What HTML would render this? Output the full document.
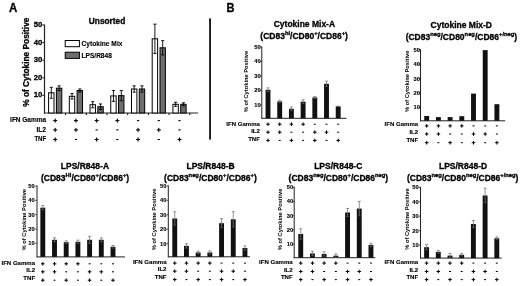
<!DOCTYPE html>
<html><head><meta charset="utf-8"><style>
html,body{margin:0;padding:0;background:#fff;width:520px;height:286px;overflow:hidden}
svg{display:block;-webkit-font-smoothing:antialiased}
svg{filter:grayscale(1)}
text{font-family:"Liberation Sans", sans-serif;stroke:#000;stroke-width:0.3px;stroke-linejoin:round}
text.s{stroke-width:0.12px}
text.n{stroke-width:0}
</style></head><body>
<svg width="520" height="286" viewBox="0 0 520 286">
<rect width="520" height="286" fill="#fff"/>
<text x="8.90" y="11.70" font-size="12" font-weight="bold" text-anchor="start" fill="#000" textLength="8.30" lengthAdjust="spacingAndGlyphs" >A</text>
<text x="107.05" y="23.80" font-size="8.3" font-weight="bold" text-anchor="middle" fill="#000" >Unsorted</text>
<text transform="translate(28.9,62.2) rotate(-90)" x="0" y="0" font-size="8.2" font-weight="bold" text-anchor="middle" textLength="89.2" lengthAdjust="spacingAndGlyphs">% of Cytokine Positive</text>
<line x1="44.50" y1="24.50" x2="44.50" y2="113.60" stroke="#222" stroke-width="1.2"/>
<line x1="43.90" y1="113.00" x2="198.00" y2="113.00" stroke="#222" stroke-width="1.2"/>
<line x1="42.30" y1="95.40" x2="44.50" y2="95.40" stroke="#222" stroke-width="1"/>
<text x="42.30" y="97.35" font-size="8" font-weight="bold" text-anchor="end" fill="#000" textLength="8.60" lengthAdjust="spacingAndGlyphs" >10</text>
<line x1="42.30" y1="77.80" x2="44.50" y2="77.80" stroke="#222" stroke-width="1"/>
<text x="42.30" y="79.75" font-size="8" font-weight="bold" text-anchor="end" fill="#000" textLength="8.60" lengthAdjust="spacingAndGlyphs" >20</text>
<line x1="42.30" y1="60.20" x2="44.50" y2="60.20" stroke="#222" stroke-width="1"/>
<text x="42.30" y="62.15" font-size="8" font-weight="bold" text-anchor="end" fill="#000" textLength="8.60" lengthAdjust="spacingAndGlyphs" >30</text>
<line x1="42.30" y1="42.60" x2="44.50" y2="42.60" stroke="#222" stroke-width="1"/>
<text x="42.30" y="44.55" font-size="8" font-weight="bold" text-anchor="end" fill="#000" textLength="8.60" lengthAdjust="spacingAndGlyphs" >40</text>
<line x1="42.30" y1="25.00" x2="44.50" y2="25.00" stroke="#222" stroke-width="1"/>
<text x="42.30" y="26.95" font-size="8" font-weight="bold" text-anchor="end" fill="#000" textLength="8.60" lengthAdjust="spacingAndGlyphs" >50</text>
<line x1="65.60" y1="113.00" x2="65.60" y2="115.00" stroke="#000" stroke-width="1"/>
<line x1="86.30" y1="113.00" x2="86.30" y2="115.00" stroke="#000" stroke-width="1"/>
<line x1="107.00" y1="113.00" x2="107.00" y2="115.00" stroke="#000" stroke-width="1"/>
<line x1="127.70" y1="113.00" x2="127.70" y2="115.00" stroke="#000" stroke-width="1"/>
<line x1="148.40" y1="113.00" x2="148.40" y2="115.00" stroke="#000" stroke-width="1"/>
<line x1="169.10" y1="113.00" x2="169.10" y2="115.00" stroke="#000" stroke-width="1"/>
<line x1="189.80" y1="113.00" x2="189.80" y2="115.00" stroke="#000" stroke-width="1"/>
<rect x="65.2" y="40.5" width="14.2" height="6.2" fill="#fff" stroke="#000" stroke-width="1"/>
<rect x="65.2" y="52.2" width="14.2" height="6.2" fill="#6e6e6e" stroke="#000" stroke-width="1"/>
<text class="s" x="81.60" y="45.90" font-size="6.6" font-weight="bold" text-anchor="start" fill="#000" textLength="40.80" lengthAdjust="spacingAndGlyphs" >Cytokine Mix</text>
<text class="s" x="81.60" y="57.60" font-size="6.6" font-weight="bold" text-anchor="start" fill="#000" textLength="30.20" lengthAdjust="spacingAndGlyphs" >LPS/R848</text>
<rect x="48.60" y="92.80" width="5.40" height="20.20" fill="#fff" stroke="#000" stroke-width="1"/>
<line x1="51.30" y1="87.35" x2="51.30" y2="98.25" stroke="#000" stroke-width="0.9"/>
<line x1="49.70" y1="87.35" x2="52.90" y2="87.35" stroke="#000" stroke-width="0.9"/>
<line x1="49.70" y1="98.25" x2="52.90" y2="98.25" stroke="#000" stroke-width="0.9"/>
<rect x="56.40" y="88.20" width="5.40" height="24.80" fill="#6e6e6e" stroke="#000" stroke-width="1"/>
<line x1="59.10" y1="85.85" x2="59.10" y2="90.55" stroke="#000" stroke-width="0.9"/>
<line x1="57.50" y1="85.85" x2="60.70" y2="85.85" stroke="#000" stroke-width="0.9"/>
<line x1="57.50" y1="90.55" x2="60.70" y2="90.55" stroke="#000" stroke-width="0.9"/>
<rect x="69.32" y="96.30" width="5.40" height="16.70" fill="#fff" stroke="#000" stroke-width="1"/>
<line x1="72.02" y1="93.55" x2="72.02" y2="99.05" stroke="#000" stroke-width="0.9"/>
<line x1="70.42" y1="93.55" x2="73.62" y2="93.55" stroke="#000" stroke-width="0.9"/>
<line x1="70.42" y1="99.05" x2="73.62" y2="99.05" stroke="#000" stroke-width="0.9"/>
<rect x="77.12" y="90.50" width="5.40" height="22.50" fill="#6e6e6e" stroke="#000" stroke-width="1"/>
<line x1="79.82" y1="88.95" x2="79.82" y2="92.05" stroke="#000" stroke-width="0.9"/>
<line x1="78.22" y1="88.95" x2="81.42" y2="88.95" stroke="#000" stroke-width="0.9"/>
<line x1="78.22" y1="92.05" x2="81.42" y2="92.05" stroke="#000" stroke-width="0.9"/>
<rect x="90.04" y="104.70" width="5.40" height="8.30" fill="#fff" stroke="#000" stroke-width="1"/>
<line x1="92.74" y1="101.65" x2="92.74" y2="107.75" stroke="#000" stroke-width="0.9"/>
<line x1="91.14" y1="101.65" x2="94.34" y2="101.65" stroke="#000" stroke-width="0.9"/>
<line x1="91.14" y1="107.75" x2="94.34" y2="107.75" stroke="#000" stroke-width="0.9"/>
<rect x="97.84" y="106.70" width="5.40" height="6.30" fill="#6e6e6e" stroke="#000" stroke-width="1"/>
<line x1="100.54" y1="103.95" x2="100.54" y2="109.45" stroke="#000" stroke-width="0.9"/>
<line x1="98.94" y1="103.95" x2="102.14" y2="103.95" stroke="#000" stroke-width="0.9"/>
<line x1="98.94" y1="109.45" x2="102.14" y2="109.45" stroke="#000" stroke-width="0.9"/>
<rect x="110.76" y="95.90" width="5.40" height="17.10" fill="#fff" stroke="#000" stroke-width="1"/>
<line x1="113.46" y1="90.45" x2="113.46" y2="101.35" stroke="#000" stroke-width="0.9"/>
<line x1="111.86" y1="90.45" x2="115.06" y2="90.45" stroke="#000" stroke-width="0.9"/>
<line x1="111.86" y1="101.35" x2="115.06" y2="101.35" stroke="#000" stroke-width="0.9"/>
<rect x="118.56" y="95.60" width="5.40" height="17.40" fill="#6e6e6e" stroke="#000" stroke-width="1"/>
<line x1="121.26" y1="90.45" x2="121.26" y2="100.75" stroke="#000" stroke-width="0.9"/>
<line x1="119.66" y1="90.45" x2="122.86" y2="90.45" stroke="#000" stroke-width="0.9"/>
<line x1="119.66" y1="100.75" x2="122.86" y2="100.75" stroke="#000" stroke-width="0.9"/>
<rect x="131.48" y="89.00" width="5.40" height="24.00" fill="#fff" stroke="#000" stroke-width="1"/>
<line x1="134.18" y1="85.85" x2="134.18" y2="92.15" stroke="#000" stroke-width="0.9"/>
<line x1="132.58" y1="85.85" x2="135.78" y2="85.85" stroke="#000" stroke-width="0.9"/>
<line x1="132.58" y1="92.15" x2="135.78" y2="92.15" stroke="#000" stroke-width="0.9"/>
<rect x="139.28" y="89.00" width="5.40" height="24.00" fill="#6e6e6e" stroke="#000" stroke-width="1"/>
<line x1="141.98" y1="85.85" x2="141.98" y2="92.15" stroke="#000" stroke-width="0.9"/>
<line x1="140.38" y1="85.85" x2="143.58" y2="85.85" stroke="#000" stroke-width="0.9"/>
<line x1="140.38" y1="92.15" x2="143.58" y2="92.15" stroke="#000" stroke-width="0.9"/>
<rect x="152.20" y="38.80" width="5.40" height="74.20" fill="#fff" stroke="#000" stroke-width="1"/>
<line x1="154.90" y1="24.15" x2="154.90" y2="53.45" stroke="#000" stroke-width="0.9"/>
<line x1="153.30" y1="24.15" x2="156.50" y2="24.15" stroke="#000" stroke-width="0.9"/>
<line x1="153.30" y1="53.45" x2="156.50" y2="53.45" stroke="#000" stroke-width="0.9"/>
<rect x="160.00" y="47.80" width="5.40" height="65.20" fill="#6e6e6e" stroke="#000" stroke-width="1"/>
<line x1="162.70" y1="40.65" x2="162.70" y2="54.95" stroke="#000" stroke-width="0.9"/>
<line x1="161.10" y1="40.65" x2="164.30" y2="40.65" stroke="#000" stroke-width="0.9"/>
<line x1="161.10" y1="54.95" x2="164.30" y2="54.95" stroke="#000" stroke-width="0.9"/>
<rect x="172.92" y="104.30" width="5.40" height="8.70" fill="#fff" stroke="#000" stroke-width="1"/>
<line x1="175.62" y1="102.25" x2="175.62" y2="106.35" stroke="#000" stroke-width="0.9"/>
<line x1="174.02" y1="102.25" x2="177.22" y2="102.25" stroke="#000" stroke-width="0.9"/>
<line x1="174.02" y1="106.35" x2="177.22" y2="106.35" stroke="#000" stroke-width="0.9"/>
<rect x="180.72" y="104.30" width="5.40" height="8.70" fill="#6e6e6e" stroke="#000" stroke-width="1"/>
<line x1="183.42" y1="102.75" x2="183.42" y2="105.85" stroke="#000" stroke-width="0.9"/>
<line x1="181.82" y1="102.75" x2="185.02" y2="102.75" stroke="#000" stroke-width="0.9"/>
<line x1="181.82" y1="105.85" x2="185.02" y2="105.85" stroke="#000" stroke-width="0.9"/>
<text class="s" x="46.10" y="122.10" font-size="6.4" font-weight="bold" text-anchor="end" fill="#000" textLength="36.00" lengthAdjust="spacingAndGlyphs" >IFN Gamma</text>
<text class="s" x="46.10" y="131.60" font-size="6.4" font-weight="bold" text-anchor="end" fill="#000" textLength="9.70" lengthAdjust="spacingAndGlyphs" >IL2</text>
<text class="s" x="46.10" y="141.10" font-size="6.4" font-weight="bold" text-anchor="end" fill="#000" textLength="11.70" lengthAdjust="spacingAndGlyphs" >TNF</text>
<rect x="53.20" y="120.05" width="4.00" height="1.10" fill="#000" />
<rect x="54.65" y="118.60" width="1.10" height="4.00" fill="#000" />
<rect x="73.92" y="120.05" width="4.00" height="1.10" fill="#000" />
<rect x="75.37" y="118.60" width="1.10" height="4.00" fill="#000" />
<rect x="94.64" y="120.05" width="4.00" height="1.10" fill="#000" />
<rect x="96.09" y="118.60" width="1.10" height="4.00" fill="#000" />
<rect x="115.36" y="120.05" width="4.00" height="1.10" fill="#000" />
<rect x="116.81" y="118.60" width="1.10" height="4.00" fill="#000" />
<rect x="136.98" y="120.05" width="2.20" height="1.10" fill="#000" />
<rect x="157.70" y="120.05" width="2.20" height="1.10" fill="#000" />
<rect x="178.42" y="120.05" width="2.20" height="1.10" fill="#000" />
<rect x="53.20" y="129.35" width="4.00" height="1.10" fill="#000" />
<rect x="54.65" y="127.90" width="1.10" height="4.00" fill="#000" />
<rect x="73.92" y="129.35" width="4.00" height="1.10" fill="#000" />
<rect x="75.37" y="127.90" width="1.10" height="4.00" fill="#000" />
<rect x="95.54" y="129.35" width="2.20" height="1.10" fill="#000" />
<rect x="116.26" y="129.35" width="2.20" height="1.10" fill="#000" />
<rect x="136.08" y="129.35" width="4.00" height="1.10" fill="#000" />
<rect x="137.53" y="127.90" width="1.10" height="4.00" fill="#000" />
<rect x="156.80" y="129.35" width="4.00" height="1.10" fill="#000" />
<rect x="158.25" y="127.90" width="1.10" height="4.00" fill="#000" />
<rect x="178.42" y="129.35" width="2.20" height="1.10" fill="#000" />
<rect x="53.20" y="138.95" width="4.00" height="1.10" fill="#000" />
<rect x="54.65" y="137.50" width="1.10" height="4.00" fill="#000" />
<rect x="74.82" y="138.95" width="2.20" height="1.10" fill="#000" />
<rect x="94.64" y="138.95" width="4.00" height="1.10" fill="#000" />
<rect x="96.09" y="137.50" width="1.10" height="4.00" fill="#000" />
<rect x="116.26" y="138.95" width="2.20" height="1.10" fill="#000" />
<rect x="136.08" y="138.95" width="4.00" height="1.10" fill="#000" />
<rect x="137.53" y="137.50" width="1.10" height="4.00" fill="#000" />
<rect x="157.70" y="138.95" width="2.20" height="1.10" fill="#000" />
<rect x="177.52" y="138.95" width="4.00" height="1.10" fill="#000" />
<rect x="178.97" y="137.50" width="1.10" height="4.00" fill="#000" />
<rect x="209.20" y="18.40" width="1.70" height="121.20" fill="#000" />
<text x="226.60" y="11.50" font-size="12" font-weight="bold" text-anchor="start" fill="#000" textLength="8.00" lengthAdjust="spacingAndGlyphs" >B</text>
<text x="304.40" y="27.40" font-size="8.5" font-weight="bold" text-anchor="middle" fill="#000" >Cytokine Mix-A</text>
<text x="304.10" y="39.10" font-weight="bold" text-anchor="middle"><tspan font-size="8.5">(CD83</tspan><tspan font-size="5.8" baseline-shift="3.6">hi</tspan><tspan font-size="8.5">/CD80</tspan><tspan font-size="5.8" baseline-shift="3.6">+</tspan><tspan font-size="8.5">/CD86</tspan><tspan font-size="5.8" baseline-shift="3.6">+</tspan><tspan font-size="8.5">)</tspan></text>
<line x1="261.80" y1="46.40" x2="261.80" y2="118.75" stroke="#222" stroke-width="1.0"/>
<line x1="261.35" y1="118.30" x2="346.50" y2="118.30" stroke="#222" stroke-width="1.0"/>
<line x1="260.10" y1="104.90" x2="261.80" y2="104.90" stroke="#222" stroke-width="0.8"/>
<text class="s" x="260.70" y="106.90" font-size="5.75" font-weight="bold" text-anchor="end" fill="#000" >10</text>
<line x1="260.10" y1="90.43" x2="261.80" y2="90.43" stroke="#222" stroke-width="0.8"/>
<text class="s" x="260.70" y="92.43" font-size="5.75" font-weight="bold" text-anchor="end" fill="#000" >20</text>
<line x1="260.10" y1="75.95" x2="261.80" y2="75.95" stroke="#222" stroke-width="0.8"/>
<text class="s" x="260.70" y="77.95" font-size="5.75" font-weight="bold" text-anchor="end" fill="#000" >30</text>
<line x1="260.10" y1="61.48" x2="261.80" y2="61.48" stroke="#222" stroke-width="0.8"/>
<text class="s" x="260.70" y="63.48" font-size="5.75" font-weight="bold" text-anchor="end" fill="#000" >40</text>
<line x1="260.10" y1="47.00" x2="261.80" y2="47.00" stroke="#222" stroke-width="0.8"/>
<text class="s" x="260.70" y="49.00" font-size="5.75" font-weight="bold" text-anchor="end" fill="#000" >50</text>
<text class="n" transform="translate(248.40,81.50) rotate(-90)" x="0" y="0" font-size="5.7" font-weight="bold" text-anchor="middle" textLength="61.5" lengthAdjust="spacingAndGlyphs">% of Cytokine Positive</text>
<rect x="265.55" y="89.80" width="4.90" height="28.50" fill="#111" />
<line x1="268.00" y1="87.85" x2="268.00" y2="91.75" stroke="#777" stroke-width="0.8"/>
<line x1="266.50" y1="87.85" x2="269.50" y2="87.85" stroke="#777" stroke-width="0.8"/>
<line x1="266.50" y1="91.75" x2="269.50" y2="91.75" stroke="#666" stroke-width="0.6"/>
<rect x="277.25" y="101.50" width="4.90" height="16.80" fill="#111" />
<line x1="279.70" y1="100.35" x2="279.70" y2="102.65" stroke="#777" stroke-width="0.8"/>
<line x1="278.20" y1="100.35" x2="281.20" y2="100.35" stroke="#777" stroke-width="0.8"/>
<line x1="278.20" y1="102.65" x2="281.20" y2="102.65" stroke="#666" stroke-width="0.6"/>
<rect x="288.95" y="108.80" width="4.90" height="9.50" fill="#111" />
<line x1="291.40" y1="107.05" x2="291.40" y2="110.55" stroke="#777" stroke-width="0.8"/>
<line x1="289.90" y1="107.05" x2="292.90" y2="107.05" stroke="#777" stroke-width="0.8"/>
<line x1="289.90" y1="110.55" x2="292.90" y2="110.55" stroke="#666" stroke-width="0.6"/>
<rect x="300.65" y="101.70" width="4.90" height="16.60" fill="#111" />
<line x1="303.10" y1="99.75" x2="303.10" y2="103.65" stroke="#777" stroke-width="0.8"/>
<line x1="301.60" y1="99.75" x2="304.60" y2="99.75" stroke="#777" stroke-width="0.8"/>
<line x1="301.60" y1="103.65" x2="304.60" y2="103.65" stroke="#666" stroke-width="0.6"/>
<rect x="312.35" y="97.50" width="4.90" height="20.80" fill="#111" />
<line x1="314.80" y1="96.55" x2="314.80" y2="98.45" stroke="#777" stroke-width="0.8"/>
<line x1="313.30" y1="96.55" x2="316.30" y2="96.55" stroke="#777" stroke-width="0.8"/>
<line x1="313.30" y1="98.45" x2="316.30" y2="98.45" stroke="#666" stroke-width="0.6"/>
<rect x="324.05" y="83.80" width="4.90" height="34.50" fill="#111" />
<line x1="326.50" y1="81.15" x2="326.50" y2="86.45" stroke="#777" stroke-width="0.8"/>
<line x1="325.00" y1="81.15" x2="328.00" y2="81.15" stroke="#777" stroke-width="0.8"/>
<line x1="325.00" y1="86.45" x2="328.00" y2="86.45" stroke="#666" stroke-width="0.6"/>
<rect x="335.75" y="106.40" width="4.90" height="11.90" fill="#111" />
<line x1="338.20" y1="106.15" x2="338.20" y2="106.65" stroke="#777" stroke-width="0.8"/>
<line x1="336.70" y1="106.15" x2="339.70" y2="106.15" stroke="#777" stroke-width="0.8"/>
<line x1="336.70" y1="106.65" x2="339.70" y2="106.65" stroke="#666" stroke-width="0.6"/>
<text class="s" x="259.90" y="125.50" font-size="6.05" font-weight="bold" text-anchor="end" fill="#000" >IFN Gamma</text>
<text class="s" x="259.90" y="132.60" font-size="6.05" font-weight="bold" text-anchor="end" fill="#000" >IL2</text>
<text class="s" x="259.90" y="140.60" font-size="6.05" font-weight="bold" text-anchor="end" fill="#000" >TNF</text>
<rect x="266.20" y="123.70" width="3.60" height="1.00" fill="#000" />
<rect x="267.50" y="122.40" width="1.00" height="3.60" fill="#000" />
<rect x="277.90" y="123.70" width="3.60" height="1.00" fill="#000" />
<rect x="279.20" y="122.40" width="1.00" height="3.60" fill="#000" />
<rect x="289.60" y="123.70" width="3.60" height="1.00" fill="#000" />
<rect x="290.90" y="122.40" width="1.00" height="3.60" fill="#000" />
<rect x="301.30" y="123.70" width="3.60" height="1.00" fill="#000" />
<rect x="302.60" y="122.40" width="1.00" height="3.60" fill="#000" />
<rect x="313.80" y="123.70" width="2.00" height="1.00" fill="#000" />
<rect x="325.50" y="123.70" width="2.00" height="1.00" fill="#000" />
<rect x="337.20" y="123.70" width="2.00" height="1.00" fill="#000" />
<rect x="266.20" y="131.70" width="3.60" height="1.00" fill="#000" />
<rect x="267.50" y="130.40" width="1.00" height="3.60" fill="#000" />
<rect x="277.90" y="131.70" width="3.60" height="1.00" fill="#000" />
<rect x="279.20" y="130.40" width="1.00" height="3.60" fill="#000" />
<rect x="290.40" y="131.70" width="2.00" height="1.00" fill="#000" />
<rect x="302.10" y="131.70" width="2.00" height="1.00" fill="#000" />
<rect x="313.00" y="131.70" width="3.60" height="1.00" fill="#000" />
<rect x="314.30" y="130.40" width="1.00" height="3.60" fill="#000" />
<rect x="324.70" y="131.70" width="3.60" height="1.00" fill="#000" />
<rect x="326.00" y="130.40" width="1.00" height="3.60" fill="#000" />
<rect x="337.20" y="131.70" width="2.00" height="1.00" fill="#000" />
<rect x="266.20" y="139.90" width="3.60" height="1.00" fill="#000" />
<rect x="267.50" y="138.60" width="1.00" height="3.60" fill="#000" />
<rect x="278.70" y="139.90" width="2.00" height="1.00" fill="#000" />
<rect x="289.60" y="139.90" width="3.60" height="1.00" fill="#000" />
<rect x="290.90" y="138.60" width="1.00" height="3.60" fill="#000" />
<rect x="302.10" y="139.90" width="2.00" height="1.00" fill="#000" />
<rect x="313.00" y="139.90" width="3.60" height="1.00" fill="#000" />
<rect x="314.30" y="138.60" width="1.00" height="3.60" fill="#000" />
<rect x="325.50" y="139.90" width="2.00" height="1.00" fill="#000" />
<rect x="336.40" y="139.90" width="3.60" height="1.00" fill="#000" />
<rect x="337.70" y="138.60" width="1.00" height="3.60" fill="#000" />
<text x="461.25" y="27.80" font-size="8.5" font-weight="bold" text-anchor="middle" fill="#000" >Cytokine Mix-D</text>
<text x="461.40" y="40.40" font-weight="bold" text-anchor="middle"><tspan font-size="8.5">(CD83</tspan><tspan font-size="5.8" baseline-shift="3.6">neg</tspan><tspan font-size="8.5">/CD80</tspan><tspan font-size="5.8" baseline-shift="3.6">neg</tspan><tspan font-size="8.5">/CD86</tspan><tspan font-size="5.8" baseline-shift="3.6">+/neg</tspan><tspan font-size="8.5">)</tspan></text>
<line x1="420.50" y1="49.10" x2="420.50" y2="121.25" stroke="#222" stroke-width="1.0"/>
<line x1="420.05" y1="120.80" x2="505.20" y2="120.80" stroke="#222" stroke-width="1.0"/>
<line x1="418.80" y1="107.30" x2="420.50" y2="107.30" stroke="#222" stroke-width="0.8"/>
<text class="s" x="419.90" y="109.30" font-size="5.75" font-weight="bold" text-anchor="end" fill="#000" >10</text>
<line x1="418.80" y1="92.90" x2="420.50" y2="92.90" stroke="#222" stroke-width="0.8"/>
<text class="s" x="419.90" y="94.90" font-size="5.75" font-weight="bold" text-anchor="end" fill="#000" >20</text>
<line x1="418.80" y1="78.50" x2="420.50" y2="78.50" stroke="#222" stroke-width="0.8"/>
<text class="s" x="419.90" y="80.50" font-size="5.75" font-weight="bold" text-anchor="end" fill="#000" >30</text>
<line x1="418.80" y1="64.10" x2="420.50" y2="64.10" stroke="#222" stroke-width="0.8"/>
<text class="s" x="419.90" y="66.10" font-size="5.75" font-weight="bold" text-anchor="end" fill="#000" >40</text>
<line x1="418.80" y1="49.70" x2="420.50" y2="49.70" stroke="#222" stroke-width="0.8"/>
<text class="s" x="419.90" y="51.70" font-size="5.75" font-weight="bold" text-anchor="end" fill="#000" >50</text>
<text class="n" transform="translate(408.90,81.30) rotate(-90)" x="0" y="0" font-size="5.7" font-weight="bold" text-anchor="middle" textLength="61.5" lengthAdjust="spacingAndGlyphs">% of Cytokine Positive</text>
<rect x="424.25" y="116.00" width="4.90" height="4.80" fill="#111" />
<rect x="435.95" y="117.10" width="4.90" height="3.70" fill="#111" />
<rect x="447.65" y="117.10" width="4.90" height="3.70" fill="#111" />
<rect x="459.35" y="116.20" width="4.90" height="4.60" fill="#111" />
<rect x="471.05" y="93.60" width="4.90" height="27.20" fill="#111" />
<rect x="482.75" y="50.10" width="4.90" height="70.70" fill="#111" />
<rect x="494.45" y="104.20" width="4.90" height="16.60" fill="#111" />
<text class="s" x="418.20" y="126.40" font-size="6.05" font-weight="bold" text-anchor="end" fill="#000" >IFN Gamma</text>
<text class="s" x="418.20" y="133.80" font-size="6.05" font-weight="bold" text-anchor="end" fill="#000" >IL2</text>
<text class="s" x="418.20" y="141.60" font-size="6.05" font-weight="bold" text-anchor="end" fill="#000" >TNF</text>
<rect x="424.90" y="125.40" width="3.60" height="1.00" fill="#000" />
<rect x="426.20" y="124.10" width="1.00" height="3.60" fill="#000" />
<rect x="436.60" y="125.40" width="3.60" height="1.00" fill="#000" />
<rect x="437.90" y="124.10" width="1.00" height="3.60" fill="#000" />
<rect x="448.30" y="125.40" width="3.60" height="1.00" fill="#000" />
<rect x="449.60" y="124.10" width="1.00" height="3.60" fill="#000" />
<rect x="460.00" y="125.40" width="3.60" height="1.00" fill="#000" />
<rect x="461.30" y="124.10" width="1.00" height="3.60" fill="#000" />
<rect x="472.50" y="125.40" width="2.00" height="1.00" fill="#000" />
<rect x="484.20" y="125.40" width="2.00" height="1.00" fill="#000" />
<rect x="495.90" y="125.40" width="2.00" height="1.00" fill="#000" />
<rect x="424.90" y="133.50" width="3.60" height="1.00" fill="#000" />
<rect x="426.20" y="132.20" width="1.00" height="3.60" fill="#000" />
<rect x="436.60" y="133.50" width="3.60" height="1.00" fill="#000" />
<rect x="437.90" y="132.20" width="1.00" height="3.60" fill="#000" />
<rect x="449.10" y="133.50" width="2.00" height="1.00" fill="#000" />
<rect x="460.80" y="133.50" width="2.00" height="1.00" fill="#000" />
<rect x="471.70" y="133.50" width="3.60" height="1.00" fill="#000" />
<rect x="473.00" y="132.20" width="1.00" height="3.60" fill="#000" />
<rect x="483.40" y="133.50" width="3.60" height="1.00" fill="#000" />
<rect x="484.70" y="132.20" width="1.00" height="3.60" fill="#000" />
<rect x="495.90" y="133.50" width="2.00" height="1.00" fill="#000" />
<rect x="424.90" y="142.20" width="3.60" height="1.00" fill="#000" />
<rect x="426.20" y="140.90" width="1.00" height="3.60" fill="#000" />
<rect x="437.40" y="142.20" width="2.00" height="1.00" fill="#000" />
<rect x="448.30" y="142.20" width="3.60" height="1.00" fill="#000" />
<rect x="449.60" y="140.90" width="1.00" height="3.60" fill="#000" />
<rect x="460.80" y="142.20" width="2.00" height="1.00" fill="#000" />
<rect x="471.70" y="142.20" width="3.60" height="1.00" fill="#000" />
<rect x="473.00" y="140.90" width="1.00" height="3.60" fill="#000" />
<rect x="484.20" y="142.20" width="2.00" height="1.00" fill="#000" />
<rect x="495.10" y="142.20" width="3.60" height="1.00" fill="#000" />
<rect x="496.40" y="140.90" width="1.00" height="3.60" fill="#000" />
<text x="84.95" y="169.30" font-size="8.5" font-weight="bold" text-anchor="middle" fill="#000" >LPS/R848-A</text>
<text x="85.10" y="180.90" font-weight="bold" text-anchor="middle"><tspan font-size="8.5">(CD83</tspan><tspan font-size="5.8" baseline-shift="3.6">Hi</tspan><tspan font-size="8.5">/CD80</tspan><tspan font-size="5.8" baseline-shift="3.6">+</tspan><tspan font-size="8.5">/CD86</tspan><tspan font-size="5.8" baseline-shift="3.6">+</tspan><tspan font-size="8.5">)</tspan></text>
<line x1="37.00" y1="185.50" x2="37.00" y2="257.35" stroke="#222" stroke-width="1.0"/>
<line x1="36.55" y1="256.90" x2="125.00" y2="256.90" stroke="#222" stroke-width="1.0"/>
<line x1="35.30" y1="243.30" x2="37.00" y2="243.30" stroke="#222" stroke-width="0.8"/>
<text class="s" x="34.70" y="245.30" font-size="5.75" font-weight="bold" text-anchor="end" fill="#000" >10</text>
<line x1="35.30" y1="229.00" x2="37.00" y2="229.00" stroke="#222" stroke-width="0.8"/>
<text class="s" x="34.70" y="231.00" font-size="5.75" font-weight="bold" text-anchor="end" fill="#000" >20</text>
<line x1="35.30" y1="214.70" x2="37.00" y2="214.70" stroke="#222" stroke-width="0.8"/>
<text class="s" x="34.70" y="216.70" font-size="5.75" font-weight="bold" text-anchor="end" fill="#000" >30</text>
<line x1="35.30" y1="200.40" x2="37.00" y2="200.40" stroke="#222" stroke-width="0.8"/>
<text class="s" x="34.70" y="202.40" font-size="5.75" font-weight="bold" text-anchor="end" fill="#000" >40</text>
<line x1="35.30" y1="186.10" x2="37.00" y2="186.10" stroke="#222" stroke-width="0.8"/>
<text class="s" x="34.70" y="188.10" font-size="5.75" font-weight="bold" text-anchor="end" fill="#000" >50</text>
<text class="n" transform="translate(26.00,219.70) rotate(-90)" x="0" y="0" font-size="5.7" font-weight="bold" text-anchor="middle" textLength="61.5" lengthAdjust="spacingAndGlyphs">% of Cytokine Positive</text>
<rect x="40.35" y="207.70" width="4.90" height="49.20" fill="#111" />
<line x1="42.80" y1="205.55" x2="42.80" y2="209.85" stroke="#777" stroke-width="0.8"/>
<line x1="41.30" y1="205.55" x2="44.30" y2="205.55" stroke="#777" stroke-width="0.8"/>
<line x1="41.30" y1="209.85" x2="44.30" y2="209.85" stroke="#666" stroke-width="0.6"/>
<rect x="52.05" y="239.80" width="4.90" height="17.10" fill="#111" />
<line x1="54.50" y1="237.85" x2="54.50" y2="241.75" stroke="#777" stroke-width="0.8"/>
<line x1="53.00" y1="237.85" x2="56.00" y2="237.85" stroke="#777" stroke-width="0.8"/>
<line x1="53.00" y1="241.75" x2="56.00" y2="241.75" stroke="#666" stroke-width="0.6"/>
<rect x="63.75" y="242.20" width="4.90" height="14.70" fill="#111" />
<line x1="66.20" y1="240.85" x2="66.20" y2="243.55" stroke="#777" stroke-width="0.8"/>
<line x1="64.70" y1="240.85" x2="67.70" y2="240.85" stroke="#777" stroke-width="0.8"/>
<line x1="64.70" y1="243.55" x2="67.70" y2="243.55" stroke="#666" stroke-width="0.6"/>
<rect x="75.45" y="241.80" width="4.90" height="15.10" fill="#111" />
<line x1="77.90" y1="240.15" x2="77.90" y2="243.45" stroke="#777" stroke-width="0.8"/>
<line x1="76.40" y1="240.15" x2="79.40" y2="240.15" stroke="#777" stroke-width="0.8"/>
<line x1="76.40" y1="243.45" x2="79.40" y2="243.45" stroke="#666" stroke-width="0.6"/>
<rect x="87.15" y="239.80" width="4.90" height="17.10" fill="#111" />
<line x1="89.60" y1="236.25" x2="89.60" y2="243.35" stroke="#777" stroke-width="0.8"/>
<line x1="88.10" y1="236.25" x2="91.10" y2="236.25" stroke="#777" stroke-width="0.8"/>
<line x1="88.10" y1="243.35" x2="91.10" y2="243.35" stroke="#666" stroke-width="0.6"/>
<rect x="98.85" y="239.80" width="4.90" height="17.10" fill="#111" />
<line x1="101.30" y1="237.85" x2="101.30" y2="241.75" stroke="#777" stroke-width="0.8"/>
<line x1="99.80" y1="237.85" x2="102.80" y2="237.85" stroke="#777" stroke-width="0.8"/>
<line x1="99.80" y1="241.75" x2="102.80" y2="241.75" stroke="#666" stroke-width="0.6"/>
<rect x="110.55" y="246.80" width="4.90" height="10.10" fill="#111" />
<line x1="113.00" y1="245.45" x2="113.00" y2="248.15" stroke="#777" stroke-width="0.8"/>
<line x1="111.50" y1="245.45" x2="114.50" y2="245.45" stroke="#777" stroke-width="0.8"/>
<line x1="111.50" y1="248.15" x2="114.50" y2="248.15" stroke="#666" stroke-width="0.6"/>
<text class="s" x="35.10" y="265.10" font-size="6.05" font-weight="bold" text-anchor="end" fill="#000" >IFN Gamma</text>
<text class="s" x="35.10" y="272.40" font-size="6.05" font-weight="bold" text-anchor="end" fill="#000" >IL2</text>
<text class="s" x="35.10" y="280.20" font-size="6.05" font-weight="bold" text-anchor="end" fill="#000" >TNF</text>
<rect x="41.00" y="263.30" width="3.60" height="1.00" fill="#000" />
<rect x="42.30" y="262.00" width="1.00" height="3.60" fill="#000" />
<rect x="52.70" y="263.30" width="3.60" height="1.00" fill="#000" />
<rect x="54.00" y="262.00" width="1.00" height="3.60" fill="#000" />
<rect x="64.40" y="263.30" width="3.60" height="1.00" fill="#000" />
<rect x="65.70" y="262.00" width="1.00" height="3.60" fill="#000" />
<rect x="76.10" y="263.30" width="3.60" height="1.00" fill="#000" />
<rect x="77.40" y="262.00" width="1.00" height="3.60" fill="#000" />
<rect x="88.60" y="263.30" width="2.00" height="1.00" fill="#000" />
<rect x="100.30" y="263.30" width="2.00" height="1.00" fill="#000" />
<rect x="112.00" y="263.30" width="2.00" height="1.00" fill="#000" />
<rect x="41.00" y="271.30" width="3.60" height="1.00" fill="#000" />
<rect x="42.30" y="270.00" width="1.00" height="3.60" fill="#000" />
<rect x="52.70" y="271.30" width="3.60" height="1.00" fill="#000" />
<rect x="54.00" y="270.00" width="1.00" height="3.60" fill="#000" />
<rect x="65.20" y="271.30" width="2.00" height="1.00" fill="#000" />
<rect x="76.90" y="271.30" width="2.00" height="1.00" fill="#000" />
<rect x="87.80" y="271.30" width="3.60" height="1.00" fill="#000" />
<rect x="89.10" y="270.00" width="1.00" height="3.60" fill="#000" />
<rect x="99.50" y="271.30" width="3.60" height="1.00" fill="#000" />
<rect x="100.80" y="270.00" width="1.00" height="3.60" fill="#000" />
<rect x="112.00" y="271.30" width="2.00" height="1.00" fill="#000" />
<rect x="41.00" y="279.70" width="3.60" height="1.00" fill="#000" />
<rect x="42.30" y="278.40" width="1.00" height="3.60" fill="#000" />
<rect x="53.50" y="279.70" width="2.00" height="1.00" fill="#000" />
<rect x="64.40" y="279.70" width="3.60" height="1.00" fill="#000" />
<rect x="65.70" y="278.40" width="1.00" height="3.60" fill="#000" />
<rect x="76.90" y="279.70" width="2.00" height="1.00" fill="#000" />
<rect x="87.80" y="279.70" width="3.60" height="1.00" fill="#000" />
<rect x="89.10" y="278.40" width="1.00" height="3.60" fill="#000" />
<rect x="100.30" y="279.70" width="2.00" height="1.00" fill="#000" />
<rect x="111.20" y="279.70" width="3.60" height="1.00" fill="#000" />
<rect x="112.50" y="278.40" width="1.00" height="3.60" fill="#000" />
<text x="210.55" y="169.00" font-size="8.5" font-weight="bold" text-anchor="middle" fill="#000" >LPS/R848-B</text>
<text x="210.40" y="180.60" font-weight="bold" text-anchor="middle"><tspan font-size="8.5">(CD83</tspan><tspan font-size="5.8" baseline-shift="3.6">neg</tspan><tspan font-size="8.5">/CD80</tspan><tspan font-size="5.8" baseline-shift="3.6">+</tspan><tspan font-size="8.5">/CD86</tspan><tspan font-size="5.8" baseline-shift="3.6">+</tspan><tspan font-size="8.5">)</tspan></text>
<line x1="168.30" y1="185.30" x2="168.30" y2="257.25" stroke="#222" stroke-width="1.0"/>
<line x1="167.85" y1="256.80" x2="250.00" y2="256.80" stroke="#222" stroke-width="1.0"/>
<line x1="166.60" y1="243.60" x2="168.30" y2="243.60" stroke="#222" stroke-width="0.8"/>
<text class="s" x="166.50" y="245.60" font-size="5.75" font-weight="bold" text-anchor="end" fill="#000" >10</text>
<line x1="166.60" y1="229.18" x2="168.30" y2="229.18" stroke="#222" stroke-width="0.8"/>
<text class="s" x="166.50" y="231.18" font-size="5.75" font-weight="bold" text-anchor="end" fill="#000" >20</text>
<line x1="166.60" y1="214.75" x2="168.30" y2="214.75" stroke="#222" stroke-width="0.8"/>
<text class="s" x="166.50" y="216.75" font-size="5.75" font-weight="bold" text-anchor="end" fill="#000" >30</text>
<line x1="166.60" y1="200.32" x2="168.30" y2="200.32" stroke="#222" stroke-width="0.8"/>
<text class="s" x="166.50" y="202.32" font-size="5.75" font-weight="bold" text-anchor="end" fill="#000" >40</text>
<line x1="166.60" y1="185.90" x2="168.30" y2="185.90" stroke="#222" stroke-width="0.8"/>
<text class="s" x="166.50" y="187.90" font-size="5.75" font-weight="bold" text-anchor="end" fill="#000" >50</text>
<text class="n" transform="translate(156.00,219.40) rotate(-90)" x="0" y="0" font-size="5.7" font-weight="bold" text-anchor="middle" textLength="61.5" lengthAdjust="spacingAndGlyphs">% of Cytokine Positive</text>
<rect x="172.30" y="218.50" width="4.90" height="38.30" fill="#111" />
<line x1="174.75" y1="211.75" x2="174.75" y2="225.25" stroke="#777" stroke-width="0.8"/>
<line x1="173.25" y1="211.75" x2="176.25" y2="211.75" stroke="#777" stroke-width="0.8"/>
<line x1="173.25" y1="225.25" x2="176.25" y2="225.25" stroke="#666" stroke-width="0.6"/>
<rect x="184.00" y="245.90" width="4.90" height="10.90" fill="#111" />
<line x1="186.45" y1="243.75" x2="186.45" y2="248.05" stroke="#777" stroke-width="0.8"/>
<line x1="184.95" y1="243.75" x2="187.95" y2="243.75" stroke="#777" stroke-width="0.8"/>
<line x1="184.95" y1="248.05" x2="187.95" y2="248.05" stroke="#666" stroke-width="0.6"/>
<rect x="195.70" y="252.50" width="4.90" height="4.30" fill="#111" />
<line x1="198.15" y1="251.15" x2="198.15" y2="253.85" stroke="#777" stroke-width="0.8"/>
<line x1="196.65" y1="251.15" x2="199.65" y2="251.15" stroke="#777" stroke-width="0.8"/>
<line x1="196.65" y1="253.85" x2="199.65" y2="253.85" stroke="#666" stroke-width="0.6"/>
<rect x="207.40" y="252.50" width="4.90" height="4.30" fill="#111" />
<line x1="209.85" y1="250.85" x2="209.85" y2="254.15" stroke="#777" stroke-width="0.8"/>
<line x1="208.35" y1="250.85" x2="211.35" y2="250.85" stroke="#777" stroke-width="0.8"/>
<line x1="208.35" y1="254.15" x2="211.35" y2="254.15" stroke="#666" stroke-width="0.6"/>
<rect x="219.10" y="223.20" width="4.90" height="33.60" fill="#111" />
<line x1="221.55" y1="218.65" x2="221.55" y2="227.75" stroke="#777" stroke-width="0.8"/>
<line x1="220.05" y1="218.65" x2="223.05" y2="218.65" stroke="#777" stroke-width="0.8"/>
<line x1="220.05" y1="227.75" x2="223.05" y2="227.75" stroke="#666" stroke-width="0.6"/>
<rect x="230.80" y="219.30" width="4.90" height="37.50" fill="#111" />
<line x1="233.25" y1="211.65" x2="233.25" y2="226.95" stroke="#777" stroke-width="0.8"/>
<line x1="231.75" y1="211.65" x2="234.75" y2="211.65" stroke="#777" stroke-width="0.8"/>
<line x1="231.75" y1="226.95" x2="234.75" y2="226.95" stroke="#666" stroke-width="0.6"/>
<rect x="242.50" y="248.00" width="4.90" height="8.80" fill="#111" />
<line x1="244.95" y1="245.95" x2="244.95" y2="250.05" stroke="#777" stroke-width="0.8"/>
<line x1="243.45" y1="245.95" x2="246.45" y2="245.95" stroke="#777" stroke-width="0.8"/>
<line x1="243.45" y1="250.05" x2="246.45" y2="250.05" stroke="#666" stroke-width="0.6"/>
<text class="s" x="166.50" y="263.90" font-size="6.05" font-weight="bold" text-anchor="end" fill="#000" >IFN Gamma</text>
<text class="s" x="166.50" y="271.20" font-size="6.05" font-weight="bold" text-anchor="end" fill="#000" >IL2</text>
<text class="s" x="166.50" y="278.90" font-size="6.05" font-weight="bold" text-anchor="end" fill="#000" >TNF</text>
<rect x="172.95" y="262.60" width="3.60" height="1.00" fill="#000" />
<rect x="174.25" y="261.30" width="1.00" height="3.60" fill="#000" />
<rect x="184.65" y="262.60" width="3.60" height="1.00" fill="#000" />
<rect x="185.95" y="261.30" width="1.00" height="3.60" fill="#000" />
<rect x="196.35" y="262.60" width="3.60" height="1.00" fill="#000" />
<rect x="197.65" y="261.30" width="1.00" height="3.60" fill="#000" />
<rect x="208.05" y="262.60" width="3.60" height="1.00" fill="#000" />
<rect x="209.35" y="261.30" width="1.00" height="3.60" fill="#000" />
<rect x="220.55" y="262.60" width="2.00" height="1.00" fill="#000" />
<rect x="232.25" y="262.60" width="2.00" height="1.00" fill="#000" />
<rect x="243.95" y="262.60" width="2.00" height="1.00" fill="#000" />
<rect x="172.95" y="270.70" width="3.60" height="1.00" fill="#000" />
<rect x="174.25" y="269.40" width="1.00" height="3.60" fill="#000" />
<rect x="184.65" y="270.70" width="3.60" height="1.00" fill="#000" />
<rect x="185.95" y="269.40" width="1.00" height="3.60" fill="#000" />
<rect x="197.15" y="270.70" width="2.00" height="1.00" fill="#000" />
<rect x="208.85" y="270.70" width="2.00" height="1.00" fill="#000" />
<rect x="219.75" y="270.70" width="3.60" height="1.00" fill="#000" />
<rect x="221.05" y="269.40" width="1.00" height="3.60" fill="#000" />
<rect x="231.45" y="270.70" width="3.60" height="1.00" fill="#000" />
<rect x="232.75" y="269.40" width="1.00" height="3.60" fill="#000" />
<rect x="243.95" y="270.70" width="2.00" height="1.00" fill="#000" />
<rect x="172.95" y="279.10" width="3.60" height="1.00" fill="#000" />
<rect x="174.25" y="277.80" width="1.00" height="3.60" fill="#000" />
<rect x="185.45" y="279.10" width="2.00" height="1.00" fill="#000" />
<rect x="196.35" y="279.10" width="3.60" height="1.00" fill="#000" />
<rect x="197.65" y="277.80" width="1.00" height="3.60" fill="#000" />
<rect x="208.85" y="279.10" width="2.00" height="1.00" fill="#000" />
<rect x="219.75" y="279.10" width="3.60" height="1.00" fill="#000" />
<rect x="221.05" y="277.80" width="1.00" height="3.60" fill="#000" />
<rect x="232.25" y="279.10" width="2.00" height="1.00" fill="#000" />
<rect x="243.15" y="279.10" width="3.60" height="1.00" fill="#000" />
<rect x="244.45" y="277.80" width="1.00" height="3.60" fill="#000" />
<text x="338.25" y="169.00" font-size="8.5" font-weight="bold" text-anchor="middle" fill="#000" >LPS/R848-C</text>
<text x="338.40" y="180.60" font-weight="bold" text-anchor="middle"><tspan font-size="8.5">(CD83</tspan><tspan font-size="5.8" baseline-shift="3.6">neg</tspan><tspan font-size="8.5">/CD80</tspan><tspan font-size="5.8" baseline-shift="3.6">+</tspan><tspan font-size="8.5">/CD86</tspan><tspan font-size="5.8" baseline-shift="3.6">neg</tspan><tspan font-size="8.5">)</tspan></text>
<line x1="294.20" y1="186.60" x2="294.20" y2="258.15" stroke="#222" stroke-width="1.0"/>
<line x1="293.75" y1="257.70" x2="375.30" y2="257.70" stroke="#222" stroke-width="1.0"/>
<line x1="292.50" y1="244.20" x2="294.20" y2="244.20" stroke="#222" stroke-width="0.8"/>
<text class="s" x="293.10" y="246.20" font-size="5.75" font-weight="bold" text-anchor="end" fill="#000" >10</text>
<line x1="292.50" y1="229.95" x2="294.20" y2="229.95" stroke="#222" stroke-width="0.8"/>
<text class="s" x="293.10" y="231.95" font-size="5.75" font-weight="bold" text-anchor="end" fill="#000" >20</text>
<line x1="292.50" y1="215.70" x2="294.20" y2="215.70" stroke="#222" stroke-width="0.8"/>
<text class="s" x="293.10" y="217.70" font-size="5.75" font-weight="bold" text-anchor="end" fill="#000" >30</text>
<line x1="292.50" y1="201.45" x2="294.20" y2="201.45" stroke="#222" stroke-width="0.8"/>
<text class="s" x="293.10" y="203.45" font-size="5.75" font-weight="bold" text-anchor="end" fill="#000" >40</text>
<line x1="292.50" y1="187.20" x2="294.20" y2="187.20" stroke="#222" stroke-width="0.8"/>
<text class="s" x="293.10" y="189.20" font-size="5.75" font-weight="bold" text-anchor="end" fill="#000" >50</text>
<text class="n" transform="translate(282.00,219.40) rotate(-90)" x="0" y="0" font-size="5.7" font-weight="bold" text-anchor="middle" textLength="61.5" lengthAdjust="spacingAndGlyphs">% of Cytokine Positive</text>
<rect x="298.30" y="234.00" width="4.90" height="23.70" fill="#111" />
<line x1="300.75" y1="228.75" x2="300.75" y2="239.25" stroke="#777" stroke-width="0.8"/>
<line x1="299.25" y1="228.75" x2="302.25" y2="228.75" stroke="#777" stroke-width="0.8"/>
<line x1="299.25" y1="239.25" x2="302.25" y2="239.25" stroke="#666" stroke-width="0.6"/>
<rect x="310.00" y="253.50" width="4.90" height="4.20" fill="#111" />
<line x1="312.45" y1="251.35" x2="312.45" y2="255.65" stroke="#777" stroke-width="0.8"/>
<line x1="310.95" y1="251.35" x2="313.95" y2="251.35" stroke="#777" stroke-width="0.8"/>
<line x1="310.95" y1="255.65" x2="313.95" y2="255.65" stroke="#666" stroke-width="0.6"/>
<rect x="321.70" y="254.00" width="4.90" height="3.70" fill="#111" />
<line x1="324.15" y1="251.85" x2="324.15" y2="256.15" stroke="#777" stroke-width="0.8"/>
<line x1="322.65" y1="251.85" x2="325.65" y2="251.85" stroke="#777" stroke-width="0.8"/>
<line x1="322.65" y1="256.15" x2="325.65" y2="256.15" stroke="#666" stroke-width="0.6"/>
<rect x="333.40" y="255.70" width="4.90" height="2.00" fill="#111" />
<line x1="335.85" y1="253.85" x2="335.85" y2="257.55" stroke="#777" stroke-width="0.8"/>
<line x1="334.35" y1="253.85" x2="337.35" y2="253.85" stroke="#777" stroke-width="0.8"/>
<line x1="334.35" y1="257.55" x2="337.35" y2="257.55" stroke="#666" stroke-width="0.6"/>
<rect x="345.10" y="212.50" width="4.90" height="45.20" fill="#111" />
<line x1="347.55" y1="208.45" x2="347.55" y2="216.55" stroke="#777" stroke-width="0.8"/>
<line x1="346.05" y1="208.45" x2="349.05" y2="208.45" stroke="#777" stroke-width="0.8"/>
<line x1="346.05" y1="216.55" x2="349.05" y2="216.55" stroke="#666" stroke-width="0.6"/>
<rect x="356.80" y="208.60" width="4.90" height="49.10" fill="#111" />
<line x1="359.25" y1="201.35" x2="359.25" y2="215.85" stroke="#777" stroke-width="0.8"/>
<line x1="357.75" y1="201.35" x2="360.75" y2="201.35" stroke="#777" stroke-width="0.8"/>
<line x1="357.75" y1="215.85" x2="360.75" y2="215.85" stroke="#666" stroke-width="0.6"/>
<rect x="368.50" y="244.90" width="4.90" height="12.80" fill="#111" />
<line x1="370.95" y1="243.25" x2="370.95" y2="246.55" stroke="#777" stroke-width="0.8"/>
<line x1="369.45" y1="243.25" x2="372.45" y2="243.25" stroke="#777" stroke-width="0.8"/>
<line x1="369.45" y1="246.55" x2="372.45" y2="246.55" stroke="#666" stroke-width="0.6"/>
<text class="s" x="292.70" y="264.20" font-size="6.05" font-weight="bold" text-anchor="end" fill="#000" >IFN Gamma</text>
<text class="s" x="292.70" y="271.50" font-size="6.05" font-weight="bold" text-anchor="end" fill="#000" >IL2</text>
<text class="s" x="292.70" y="278.90" font-size="6.05" font-weight="bold" text-anchor="end" fill="#000" >TNF</text>
<rect x="298.95" y="262.60" width="3.60" height="1.00" fill="#000" />
<rect x="300.25" y="261.30" width="1.00" height="3.60" fill="#000" />
<rect x="310.65" y="262.60" width="3.60" height="1.00" fill="#000" />
<rect x="311.95" y="261.30" width="1.00" height="3.60" fill="#000" />
<rect x="322.35" y="262.60" width="3.60" height="1.00" fill="#000" />
<rect x="323.65" y="261.30" width="1.00" height="3.60" fill="#000" />
<rect x="334.05" y="262.60" width="3.60" height="1.00" fill="#000" />
<rect x="335.35" y="261.30" width="1.00" height="3.60" fill="#000" />
<rect x="346.55" y="262.60" width="2.00" height="1.00" fill="#000" />
<rect x="358.25" y="262.60" width="2.00" height="1.00" fill="#000" />
<rect x="369.95" y="262.60" width="2.00" height="1.00" fill="#000" />
<rect x="298.95" y="271.00" width="3.60" height="1.00" fill="#000" />
<rect x="300.25" y="269.70" width="1.00" height="3.60" fill="#000" />
<rect x="310.65" y="271.00" width="3.60" height="1.00" fill="#000" />
<rect x="311.95" y="269.70" width="1.00" height="3.60" fill="#000" />
<rect x="323.15" y="271.00" width="2.00" height="1.00" fill="#000" />
<rect x="334.85" y="271.00" width="2.00" height="1.00" fill="#000" />
<rect x="345.75" y="271.00" width="3.60" height="1.00" fill="#000" />
<rect x="347.05" y="269.70" width="1.00" height="3.60" fill="#000" />
<rect x="357.45" y="271.00" width="3.60" height="1.00" fill="#000" />
<rect x="358.75" y="269.70" width="1.00" height="3.60" fill="#000" />
<rect x="369.95" y="271.00" width="2.00" height="1.00" fill="#000" />
<rect x="298.95" y="279.10" width="3.60" height="1.00" fill="#000" />
<rect x="300.25" y="277.80" width="1.00" height="3.60" fill="#000" />
<rect x="311.45" y="279.10" width="2.00" height="1.00" fill="#000" />
<rect x="322.35" y="279.10" width="3.60" height="1.00" fill="#000" />
<rect x="323.65" y="277.80" width="1.00" height="3.60" fill="#000" />
<rect x="334.85" y="279.10" width="2.00" height="1.00" fill="#000" />
<rect x="345.75" y="279.10" width="3.60" height="1.00" fill="#000" />
<rect x="347.05" y="277.80" width="1.00" height="3.60" fill="#000" />
<rect x="358.25" y="279.10" width="2.00" height="1.00" fill="#000" />
<rect x="369.15" y="279.10" width="3.60" height="1.00" fill="#000" />
<rect x="370.45" y="277.80" width="1.00" height="3.60" fill="#000" />
<text x="463.05" y="169.00" font-size="8.5" font-weight="bold" text-anchor="middle" fill="#000" >LPS/R848-D</text>
<text x="462.70" y="180.60" font-weight="bold" text-anchor="middle"><tspan font-size="8.5">(CD83</tspan><tspan font-size="5.8" baseline-shift="3.6">neg</tspan><tspan font-size="8.5">/CD80</tspan><tspan font-size="5.8" baseline-shift="3.6">neg</tspan><tspan font-size="8.5">/CD86</tspan><tspan font-size="5.8" baseline-shift="3.6">+/neg</tspan><tspan font-size="8.5">)</tspan></text>
<line x1="420.50" y1="186.80" x2="420.50" y2="258.55" stroke="#222" stroke-width="1.0"/>
<line x1="420.05" y1="258.10" x2="501.70" y2="258.10" stroke="#222" stroke-width="1.0"/>
<line x1="418.80" y1="245.00" x2="420.50" y2="245.00" stroke="#222" stroke-width="0.8"/>
<text class="s" x="418.60" y="247.00" font-size="5.75" font-weight="bold" text-anchor="end" fill="#000" >10</text>
<line x1="418.80" y1="230.60" x2="420.50" y2="230.60" stroke="#222" stroke-width="0.8"/>
<text class="s" x="418.60" y="232.60" font-size="5.75" font-weight="bold" text-anchor="end" fill="#000" >20</text>
<line x1="418.80" y1="216.20" x2="420.50" y2="216.20" stroke="#222" stroke-width="0.8"/>
<text class="s" x="418.60" y="218.20" font-size="5.75" font-weight="bold" text-anchor="end" fill="#000" >30</text>
<line x1="418.80" y1="201.80" x2="420.50" y2="201.80" stroke="#222" stroke-width="0.8"/>
<text class="s" x="418.60" y="203.80" font-size="5.75" font-weight="bold" text-anchor="end" fill="#000" >40</text>
<line x1="418.80" y1="187.40" x2="420.50" y2="187.40" stroke="#222" stroke-width="0.8"/>
<text class="s" x="418.60" y="189.40" font-size="5.75" font-weight="bold" text-anchor="end" fill="#000" >50</text>
<text class="n" transform="translate(408.50,219.00) rotate(-90)" x="0" y="0" font-size="5.7" font-weight="bold" text-anchor="middle" textLength="61.5" lengthAdjust="spacingAndGlyphs">% of Cytokine Positive</text>
<rect x="424.15" y="247.20" width="4.90" height="10.90" fill="#111" />
<line x1="426.60" y1="244.45" x2="426.60" y2="249.95" stroke="#777" stroke-width="0.8"/>
<line x1="425.10" y1="244.45" x2="428.10" y2="244.45" stroke="#777" stroke-width="0.8"/>
<line x1="425.10" y1="249.95" x2="428.10" y2="249.95" stroke="#666" stroke-width="0.6"/>
<rect x="435.85" y="251.90" width="4.90" height="6.20" fill="#111" />
<line x1="438.30" y1="250.65" x2="438.30" y2="253.15" stroke="#777" stroke-width="0.8"/>
<line x1="436.80" y1="250.65" x2="439.80" y2="250.65" stroke="#777" stroke-width="0.8"/>
<line x1="436.80" y1="253.15" x2="439.80" y2="253.15" stroke="#666" stroke-width="0.6"/>
<rect x="447.55" y="255.60" width="4.90" height="2.50" fill="#111" />
<line x1="450.00" y1="253.35" x2="450.00" y2="257.85" stroke="#777" stroke-width="0.8"/>
<line x1="448.50" y1="253.35" x2="451.50" y2="253.35" stroke="#777" stroke-width="0.8"/>
<line x1="448.50" y1="257.85" x2="451.50" y2="257.85" stroke="#666" stroke-width="0.6"/>
<rect x="459.25" y="254.80" width="4.90" height="3.30" fill="#111" />
<line x1="461.70" y1="253.65" x2="461.70" y2="255.95" stroke="#777" stroke-width="0.8"/>
<line x1="460.20" y1="253.65" x2="463.20" y2="253.65" stroke="#777" stroke-width="0.8"/>
<line x1="460.20" y1="255.95" x2="463.20" y2="255.95" stroke="#666" stroke-width="0.6"/>
<rect x="470.95" y="224.00" width="4.90" height="34.10" fill="#111" />
<line x1="473.40" y1="220.45" x2="473.40" y2="227.55" stroke="#777" stroke-width="0.8"/>
<line x1="471.90" y1="220.45" x2="474.90" y2="220.45" stroke="#777" stroke-width="0.8"/>
<line x1="471.90" y1="227.55" x2="474.90" y2="227.55" stroke="#666" stroke-width="0.6"/>
<rect x="482.65" y="195.50" width="4.90" height="62.60" fill="#111" />
<line x1="485.10" y1="188.15" x2="485.10" y2="202.85" stroke="#777" stroke-width="0.8"/>
<line x1="483.60" y1="188.15" x2="486.60" y2="188.15" stroke="#777" stroke-width="0.8"/>
<line x1="483.60" y1="202.85" x2="486.60" y2="202.85" stroke="#666" stroke-width="0.6"/>
<rect x="494.35" y="238.30" width="4.90" height="19.80" fill="#111" />
<line x1="496.80" y1="236.85" x2="496.80" y2="239.75" stroke="#777" stroke-width="0.8"/>
<line x1="495.30" y1="236.85" x2="498.30" y2="236.85" stroke="#777" stroke-width="0.8"/>
<line x1="495.30" y1="239.75" x2="498.30" y2="239.75" stroke="#666" stroke-width="0.6"/>
<text class="s" x="418.20" y="263.90" font-size="6.05" font-weight="bold" text-anchor="end" fill="#000" >IFN Gamma</text>
<text class="s" x="418.20" y="271.50" font-size="6.05" font-weight="bold" text-anchor="end" fill="#000" >IL2</text>
<text class="s" x="418.20" y="278.90" font-size="6.05" font-weight="bold" text-anchor="end" fill="#000" >TNF</text>
<rect x="424.80" y="262.60" width="3.60" height="1.00" fill="#000" />
<rect x="426.10" y="261.30" width="1.00" height="3.60" fill="#000" />
<rect x="436.50" y="262.60" width="3.60" height="1.00" fill="#000" />
<rect x="437.80" y="261.30" width="1.00" height="3.60" fill="#000" />
<rect x="448.20" y="262.60" width="3.60" height="1.00" fill="#000" />
<rect x="449.50" y="261.30" width="1.00" height="3.60" fill="#000" />
<rect x="459.90" y="262.60" width="3.60" height="1.00" fill="#000" />
<rect x="461.20" y="261.30" width="1.00" height="3.60" fill="#000" />
<rect x="472.40" y="262.60" width="2.00" height="1.00" fill="#000" />
<rect x="484.10" y="262.60" width="2.00" height="1.00" fill="#000" />
<rect x="495.80" y="262.60" width="2.00" height="1.00" fill="#000" />
<rect x="424.80" y="271.00" width="3.60" height="1.00" fill="#000" />
<rect x="426.10" y="269.70" width="1.00" height="3.60" fill="#000" />
<rect x="436.50" y="271.00" width="3.60" height="1.00" fill="#000" />
<rect x="437.80" y="269.70" width="1.00" height="3.60" fill="#000" />
<rect x="449.00" y="271.00" width="2.00" height="1.00" fill="#000" />
<rect x="460.70" y="271.00" width="2.00" height="1.00" fill="#000" />
<rect x="471.60" y="271.00" width="3.60" height="1.00" fill="#000" />
<rect x="472.90" y="269.70" width="1.00" height="3.60" fill="#000" />
<rect x="483.30" y="271.00" width="3.60" height="1.00" fill="#000" />
<rect x="484.60" y="269.70" width="1.00" height="3.60" fill="#000" />
<rect x="495.80" y="271.00" width="2.00" height="1.00" fill="#000" />
<rect x="424.80" y="279.10" width="3.60" height="1.00" fill="#000" />
<rect x="426.10" y="277.80" width="1.00" height="3.60" fill="#000" />
<rect x="437.30" y="279.10" width="2.00" height="1.00" fill="#000" />
<rect x="448.20" y="279.10" width="3.60" height="1.00" fill="#000" />
<rect x="449.50" y="277.80" width="1.00" height="3.60" fill="#000" />
<rect x="460.70" y="279.10" width="2.00" height="1.00" fill="#000" />
<rect x="471.60" y="279.10" width="3.60" height="1.00" fill="#000" />
<rect x="472.90" y="277.80" width="1.00" height="3.60" fill="#000" />
<rect x="484.10" y="279.10" width="2.00" height="1.00" fill="#000" />
<rect x="495.00" y="279.10" width="3.60" height="1.00" fill="#000" />
<rect x="496.30" y="277.80" width="1.00" height="3.60" fill="#000" />
</svg>
</body></html>
